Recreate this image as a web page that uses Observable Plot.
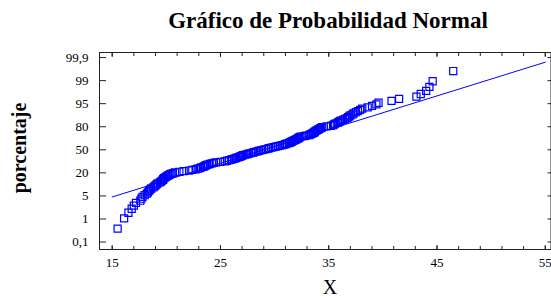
<!DOCTYPE html>
<html><head><meta charset="utf-8">
<script src="https://cdn.jsdelivr.net/npm/d3@7"></script>
<script src="https://cdn.jsdelivr.net/npm/@observablehq/plot@0.6"></script>
<style>body{margin:0;background:#fff;} svg{display:block;}</style>
</head><body><div id="chart"></div>
<script>
// Sorted sample values (X), one per point
const xValues = [
 15.5,16.1,16.5,16.8,17.0,17.2,17.6,17.7,17.8,18.0,
 18.2,18.3,18.4,18.5,18.6,18.8,18.9,19.0,19.1,19.2,
 19.4,19.5,19.6,19.7,19.7,19.8,19.9,20.0,20.1,20.2,
 20.3,20.4,20.6,20.8,21.2,21.6,22.1,22.4,22.7,22.9,
 23.1,23.2,23.4,23.5,23.6,23.7,23.8,24.0,24.2,24.4,
 24.6,25.0,25.4,25.6,25.8,26.0,26.1,26.3,26.4,26.5,
 26.7,26.8,26.9,27.0,27.1,27.3,27.5,27.6,27.8,28.0,
 28.1,28.3,28.5,28.6,28.8,29.0,29.2,29.4,29.5,29.7,
 29.9,30.1,30.3,30.5,30.7,30.9,31.0,31.1,31.3,31.4,
 31.5,31.6,31.7,31.8,31.9,32.0,32.1,32.2,32.2,32.3,
 32.4,32.7,32.9,33.2,33.3,33.4,33.5,33.6,33.7,33.7,
 33.8,33.9,34.0,34.1,34.2,34.3,34.4,34.8,35.2,35.4,
 35.5,35.6,35.8,35.9,36.0,36.1,36.3,36.5,36.7,36.8,
 36.9,37.0,37.2,37.3,37.5,37.7,37.9,38.1,38.6,39.0,
 39.4,39.6,40.8,41.5,43.1,43.5,44.0,44.3,44.6,46.5
];
const yTickLabels = ["0,1","1","5","20","50","80","95","99","99,9"];
const xTickValues = [15,25,35,45,55];
const xMinorTicks = [15,17,19,21,23,25,27,29,31,33,35,37,39,41,43,45,47,49,51,53,55];
const fitMean = 29.0;   // fitted normal line
const fitSd = 8.86;
const titleText = "Gráfico de Probabilidad Normal";
const xLabel = "X";
const yLabel = "porcentaje";

// inverse normal CDF (Acklam)
function probit(p){
  const a=[-3.969683028665376e+01,2.209460984245205e+02,-2.759285104469687e+02,1.383577518672690e+02,-3.066479806614716e+01,2.506628277459239e+00];
  const b=[-5.447609879822406e+01,1.615858368580409e+02,-1.556989798598866e+02,6.680131188771972e+01,-1.328068155288572e+01];
  const c=[-7.784894002430293e-03,-3.223964580411365e-01,-2.400758277161838e+00,-2.549732539343734e+00,4.374664141464968e+00,2.938163982698783e+00];
  const d=[7.784695709041462e-03,3.224671290700398e-01,2.445134137142996e+00,3.754408661907416e+00];
  const pl=0.02425, ph=1-pl; let q,r;
  if(p<pl){q=Math.sqrt(-2*Math.log(p));return (((((c[0]*q+c[1])*q+c[2])*q+c[3])*q+c[4])*q+c[5])/((((d[0]*q+d[1])*q+d[2])*q+d[3])*q+1);}
  if(p<=ph){q=p-0.5;r=q*q;return (((((a[0]*r+a[1])*r+a[2])*r+a[3])*r+a[4])*r+a[5])*q/(((((b[0]*r+b[1])*r+b[2])*r+b[3])*r+b[4])*r+1);}
  q=Math.sqrt(-2*Math.log(1-p));return -(((((c[0]*q+c[1])*q+c[2])*q+c[3])*q+c[4])*q+c[5])/((((d[0]*q+d[1])*q+d[2])*q+d[3])*q+1);
}

const n = xValues.length;
const points = xValues.slice().sort((a,b)=>a-b).map((x,i)=>({x, z: probit((i+1-0.375)/(n+0.25))}));
const zTop = probit(0.999);
const yTicks = yTickLabels.map((_,i)=>(i-4)*zTop/4);
const yLabelMap = new Map(yTicks.map((z,i)=>[z, yTickLabels[i]]));
const fitLine = [xTickValues[0], xTickValues[xTickValues.length-1]].map(x=>({x, z:(x-fitMean)/fitSd}));

const W=551, H=297;
const plot = Plot.plot({
  width: W, height: H,
  marginTop: 52, marginBottom: 48, marginLeft: 99, marginRight: 0.5,
  x: {domain: [13.827, 55.53]},
  y: {domain: [-3.34, 3.26]},
  style: {fontFamily: "'Liberation Serif', 'Times New Roman', serif", fontSize: "13px", color: "#000", background: "#fff"},
  marks: [
    Plot.line(fitLine, {x: "x", y: "z", stroke: "#0000ff", strokeWidth: 1}),
    Plot.dot(points, {x: "x", y: "z", symbol: "square", r: 4, stroke: "#0000ff", strokeWidth: 1.2, fill: "none"}),
    Plot.axisX(xMinorTicks, {anchor: "bottom", tickSize: -3, tickFormat: () => "", label: null, stroke: "#222"}),
    Plot.axisX(xTickValues, {anchor: "bottom", tickSize: -4, tickPadding: 12.5, label: null, stroke: "#222", fill: "#000"}),
    Plot.axisX(xMinorTicks, {anchor: "top", tickSize: -3, tickFormat: () => "", label: null, stroke: "#222"}),
    Plot.axisX(xTickValues, {anchor: "top", tickSize: -4, tickFormat: () => "", label: null, stroke: "#222"}),
    Plot.axisY(yTicks, {anchor: "left", tickSize: -7, tickPadding: 18, tickFormat: d => yLabelMap.get(d), label: null, stroke: "#222", fill: "#000"}),
    Plot.axisY(yTicks, {anchor: "right", tickSize: -4, tickFormat: () => "", label: null, stroke: "#222"}),
    Plot.frame({stroke: "#222"})
  ]
});
document.getElementById("chart").appendChild(plot);

const svg = d3.select(plot);
svg.append("text").attr("x", 328).attr("y", 28).attr("text-anchor", "middle")
  .attr("font-family", "'Liberation Serif', serif").attr("font-size", 23).attr("font-weight", "bold")
  .attr("fill", "#000").text(titleText);
svg.append("text").attr("x", 330).attr("y", 294).attr("text-anchor", "middle")
  .attr("font-family", "'Liberation Serif', serif").attr("font-size", 20)
  .attr("fill", "#000").text(xLabel);
svg.append("text").attr("transform", "translate(26,148) rotate(-90)").attr("text-anchor", "middle")
  .attr("font-family", "'Liberation Serif', serif").attr("font-size", 20).attr("font-weight", "bold")
  .attr("fill", "#000").text(yLabel);
</script>
</body></html>
